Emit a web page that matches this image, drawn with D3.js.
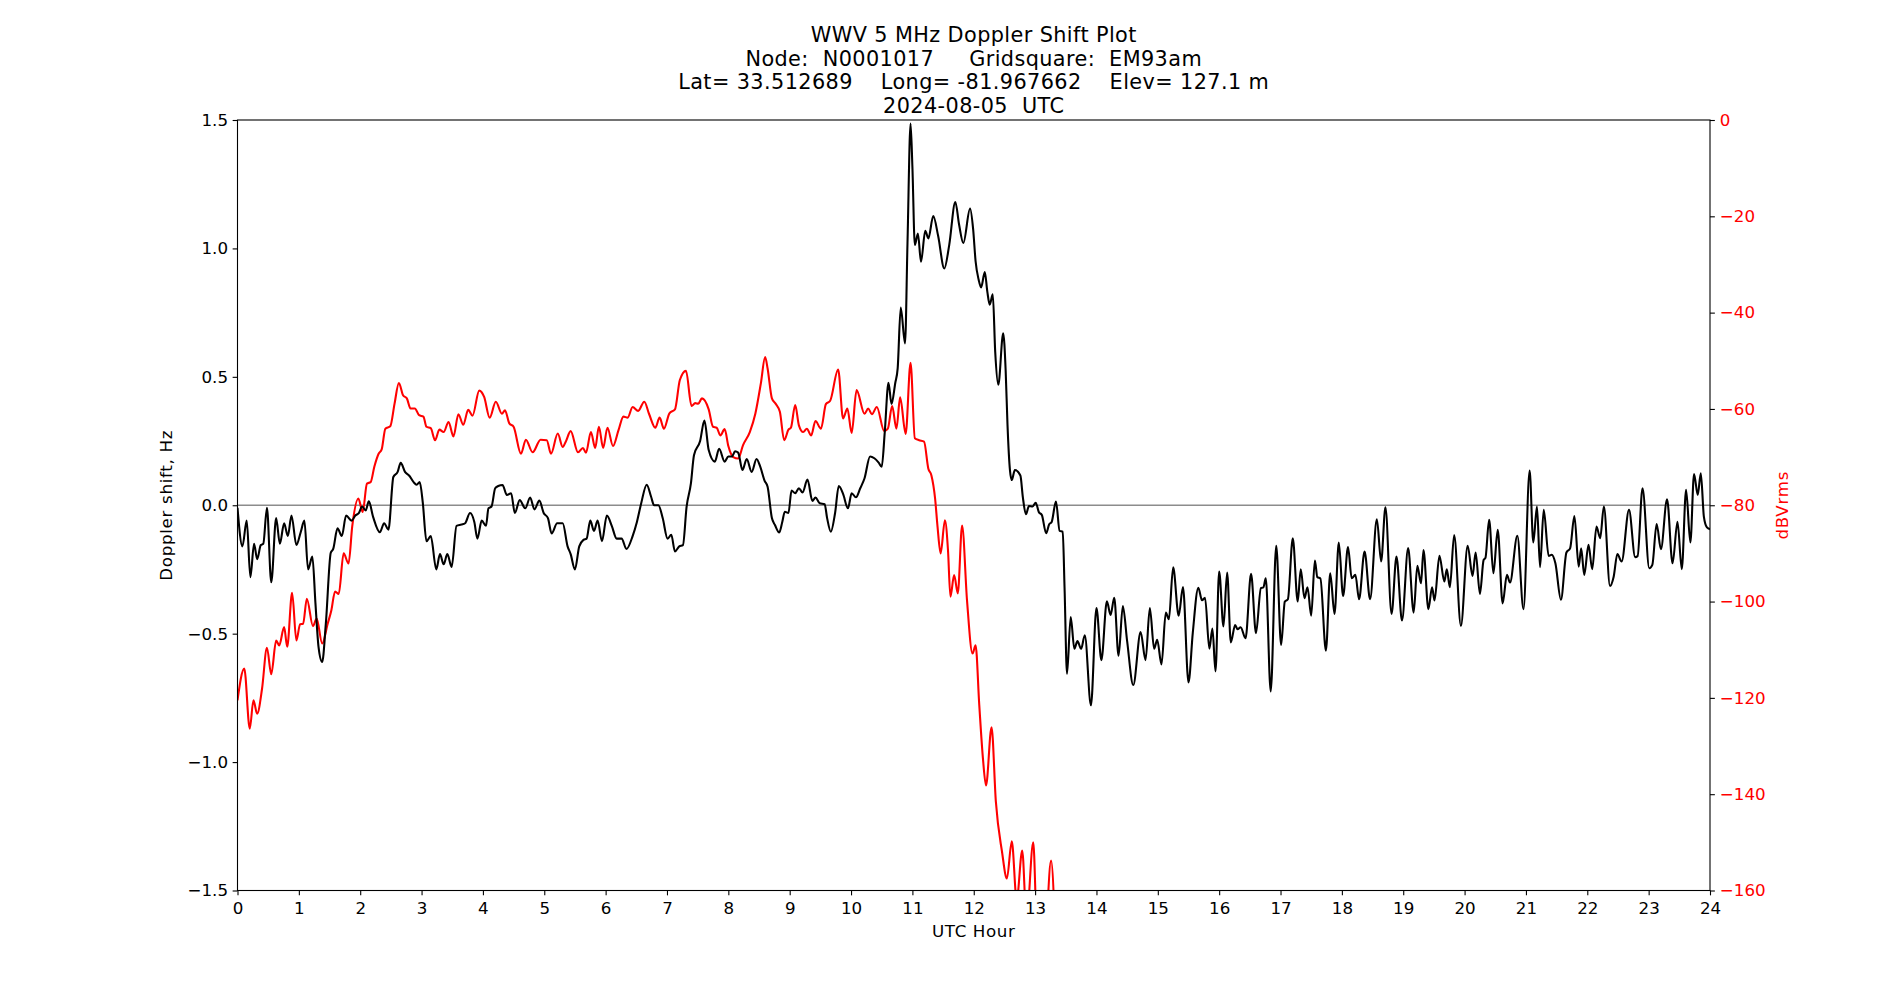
<!DOCTYPE html>
<html>
<head>
<meta charset="utf-8">
<script src="https://cdn.jsdelivr.net/npm/d3@7"></script>
<style>
  html, body { margin: 0; padding: 0; background: #fff; }
  svg text { font-family: "DejaVu Sans", sans-serif; white-space: pre; }
</style>
</head>
<body>
<svg id="chart" width="1900" height="1000"></svg>
<script>
const titleLines = [
  "WWV 5 MHz Doppler Shift Plot",
  "Node:  N0001017     Gridsquare:  EM93am",
  "Lat= 33.512689    Long= -81.967662    Elev= 127.1 m",
  "2024-08-05  UTC"
];
const xLabel = "UTC Hour";
const yLeftLabel = "Doppler shift, Hz";
const yRightLabel = "dBVrms";
const hourTicks = d3.range(0, 25, 1);
const dopplerTicks = [-1.5, -1.0, -0.5, 0.0, 0.5, 1.0, 1.5];
const powerTicks = [0, -20, -40, -60, -80, -100, -120, -140, -160];

// Doppler shift (Hz) vs UTC hour
const dopplerSeries = [
[0.00,-0.01],[0.08,-0.16],[0.15,-0.06],[0.21,-0.28],[0.27,-0.15],[0.32,-0.21],[0.38,-0.155],[0.42,-0.15],[0.48,-0.01],[0.55,-0.30],[0.63,-0.05],[0.69,-0.15],[0.76,-0.07],[0.82,-0.12],[0.88,-0.04],[0.96,-0.155],[1.03,-0.105],[1.09,-0.06],[1.15,-0.25],[1.22,-0.20],[1.27,-0.38],[1.32,-0.55],[1.38,-0.61],[1.44,-0.46],[1.52,-0.185],[1.56,-0.17],[1.63,-0.09],[1.70,-0.12],[1.77,-0.04],[1.86,-0.06],[1.92,-0.04],[1.98,-0.03],[2.03,-0.005],[2.09,-0.02],[2.14,0.015],[2.21,-0.045],[2.32,-0.105],[2.39,-0.07],[2.46,-0.095],[2.54,0.11],[2.61,0.13],[2.66,0.165],[2.73,0.13],[2.80,0.115],[2.87,0.09],[2.92,0.08],[2.97,0.09],[3.02,0.01],[3.08,-0.14],[3.15,-0.12],[3.24,-0.25],[3.30,-0.19],[3.36,-0.23],[3.42,-0.19],[3.49,-0.24],[3.57,-0.08],[3.65,-0.075],[3.71,-0.07],[3.79,-0.03],[3.86,-0.065],[3.91,-0.13],[3.98,-0.06],[4.05,-0.08],[4.09,-0.012],[4.14,-0.005],[4.20,0.066],[4.25,0.075],[4.32,0.079],[4.39,0.04],[4.46,0.047],[4.52,-0.03],[4.60,0.02],[4.69,-0.012],[4.77,0.03],[4.84,-0.016],[4.92,0.018],[4.99,-0.03],[5.06,-0.05],[5.12,-0.11],[5.21,-0.07],[5.30,-0.07],[5.38,-0.16],[5.43,-0.19],[5.50,-0.25],[5.57,-0.16],[5.64,-0.135],[5.69,-0.13],[5.75,-0.06],[5.81,-0.10],[5.87,-0.06],[5.94,-0.14],[6.02,-0.04],[6.10,-0.08],[6.18,-0.13],[6.26,-0.13],[6.34,-0.17],[6.44,-0.12],[6.51,-0.065],[6.58,0.008],[6.67,0.08],[6.74,0.034],[6.79,0.0],[6.86,0.0],[6.93,-0.05],[7.01,-0.13],[7.07,-0.115],[7.13,-0.18],[7.20,-0.16],[7.26,-0.155],[7.32,-0.005],[7.39,0.085],[7.44,0.195],[7.54,0.25],[7.61,0.33],[7.68,0.215],[7.78,0.17],[7.85,0.22],[7.94,0.17],[8.00,0.19],[8.06,0.19],[8.11,0.21],[8.16,0.205],[8.23,0.137],[8.30,0.18],[8.38,0.13],[8.46,0.18],[8.52,0.15],[8.59,0.096],[8.64,0.072],[8.71,-0.05],[8.76,-0.077],[8.83,-0.106],[8.88,-0.064],[8.92,-0.025],[8.98,-0.03],[9.03,0.057],[9.09,0.047],[9.15,0.066],[9.21,0.05],[9.29,0.10],[9.37,0.017],[9.42,0.03],[9.49,0.008],[9.57,0.004],[9.61,-0.05],[9.67,-0.103],[9.74,-0.03],[9.80,0.075],[9.87,0.044],[9.95,-0.012],[10.01,0.047],[10.08,0.031],[10.15,0.066],[10.22,0.105],[10.31,0.19],[10.38,0.183],[10.45,0.166],[10.50,0.15],[10.55,0.286],[10.61,0.477],[10.66,0.394],[10.72,0.475],[10.76,0.533],[10.81,0.77],[10.88,0.63],[10.92,1.02],[10.97,1.486],[11.00,1.318],[11.04,1.013],[11.09,1.058],[11.14,0.948],[11.21,1.069],[11.26,1.039],[11.34,1.126],[11.42,1.048],[11.52,0.922],[11.60,1.013],[11.70,1.181],[11.76,1.094],[11.83,1.021],[11.94,1.155],[11.99,1.075],[12.03,0.95],[12.08,0.878],[12.12,0.848],[12.18,0.908],[12.22,0.834],[12.26,0.781],[12.31,0.821],[12.35,0.596],[12.40,0.469],[12.48,0.67],[12.52,0.525],[12.55,0.314],[12.59,0.137],[12.62,0.098],[12.67,0.137],[12.76,0.116],[12.80,0.032],[12.85,-0.035],[12.90,-0.003],[12.96,-0.005],[13.01,0.01],[13.06,-0.026],[13.11,-0.038],[13.18,-0.109],[13.23,-0.074],[13.27,-0.065],[13.34,0.014],[13.40,-0.10],[13.45,-0.103],[13.48,-0.321],[13.52,-0.656],[13.58,-0.435],[13.64,-0.559],[13.69,-0.529],[13.75,-0.559],[13.81,-0.506],[13.91,-0.779],[14.00,-0.40],[14.08,-0.603],[14.17,-0.374],[14.23,-0.427],[14.29,-0.36],[14.36,-0.586],[14.43,-0.392],[14.50,-0.529],[14.60,-0.70],[14.72,-0.494],[14.80,-0.603],[14.87,-0.40],[14.94,-0.559],[14.99,-0.524],[15.06,-0.62],[15.13,-0.418],[15.18,-0.444],[15.25,-0.242],[15.34,-0.43],[15.41,-0.318],[15.50,-0.69],[15.57,-0.497],[15.66,-0.321],[15.72,-0.37],[15.77,-0.36],[15.84,-0.559],[15.89,-0.48],[15.94,-0.647],[16.00,-0.258],[16.07,-0.472],[16.13,-0.262],[16.19,-0.534],[16.26,-0.466],[16.30,-0.483],[16.35,-0.475],[16.43,-0.518],[16.52,-0.267],[16.60,-0.498],[16.68,-0.323],[16.72,-0.32],[16.76,-0.284],[16.84,-0.725],[16.93,-0.158],[17.01,-0.544],[17.07,-0.375],[17.12,-0.366],[17.20,-0.129],[17.28,-0.375],[17.33,-0.249],[17.39,-0.362],[17.44,-0.319],[17.50,-0.43],[17.56,-0.215],[17.60,-0.28],[17.65,-0.285],[17.74,-0.566],[17.81,-0.265],[17.88,-0.423],[17.95,-0.145],[18.02,-0.353],[18.10,-0.163],[18.16,-0.284],[18.22,-0.271],[18.28,-0.366],[18.37,-0.18],[18.46,-0.366],[18.57,-0.055],[18.64,-0.219],[18.71,-0.008],[18.81,-0.423],[18.89,-0.2],[18.98,-0.449],[19.08,-0.167],[19.17,-0.418],[19.23,-0.236],[19.29,-0.304],[19.33,-0.174],[19.41,-0.405],[19.47,-0.319],[19.51,-0.371],[19.59,-0.197],[19.67,-0.297],[19.71,-0.249],[19.76,-0.319],[19.83,-0.116],[19.94,-0.47],[20.05,-0.158],[20.13,-0.275],[20.18,-0.184],[20.25,-0.345],[20.31,-0.213],[20.34,-0.205],[20.40,-0.057],[20.47,-0.265],[20.54,-0.096],[20.62,-0.382],[20.69,-0.271],[20.74,-0.301],[20.86,-0.119],[20.96,-0.405],[21.06,0.135],[21.12,-0.145],[21.18,-0.005],[21.23,-0.241],[21.29,-0.018],[21.37,-0.197],[21.42,-0.193],[21.48,-0.226],[21.57,-0.368],[21.66,-0.184],[21.72,-0.168],[21.79,-0.042],[21.86,-0.239],[21.90,-0.168],[21.95,-0.271],[22.02,-0.154],[22.08,-0.249],[22.15,-0.083],[22.21,-0.128],[22.27,-0.005],[22.37,-0.314],[22.43,-0.278],[22.49,-0.19],[22.56,-0.219],[22.68,-0.018],[22.78,-0.202],[22.82,-0.198],[22.90,0.066],[23.01,-0.245],[23.06,-0.232],[23.13,-0.073],[23.20,-0.171],[23.30,0.023],[23.39,-0.226],[23.47,-0.064],[23.54,-0.249],[23.61,0.06],[23.68,-0.145],[23.74,0.122],[23.80,0.04],[23.85,0.124],[23.90,-0.044],[23.95,-0.086],[24.00,-0.093]
];

// Received power (dBVrms) vs UTC hour
const powerSeries = [
[0.00,-120.5],[0.11,-113.9],[0.20,-126.4],[0.26,-120.5],[0.32,-123.3],[0.40,-118.1],[0.48,-109.6],[0.55,-115.1],[0.63,-108.1],[0.68,-109.1],[0.76,-105.3],[0.81,-109.4],[0.89,-98.2],[0.96,-108.1],[1.02,-104.7],[1.07,-104.6],[1.13,-99.4],[1.23,-105.1],[1.29,-103.5],[1.38,-108.7],[1.47,-104.6],[1.53,-101.8],[1.59,-97.9],[1.65,-98.4],[1.73,-90.0],[1.81,-92.1],[1.87,-84.4],[1.97,-78.6],[2.04,-81.4],[2.11,-75.5],[2.17,-75.2],[2.23,-72.0],[2.30,-69.3],[2.35,-68.4],[2.41,-64.1],[2.49,-63.6],[2.56,-58.9],[2.63,-54.6],[2.70,-57.2],[2.76,-57.8],[2.82,-59.9],[2.89,-59.9],[2.96,-61.3],[3.03,-61.6],[3.08,-63.7],[3.15,-64.0],[3.22,-66.5],[3.29,-64.3],[3.36,-64.8],[3.44,-62.7],[3.52,-65.7],[3.60,-61.1],[3.68,-63.3],[3.76,-60.2],[3.83,-61.4],[3.94,-56.2],[4.02,-57.5],[4.11,-61.8],[4.21,-58.5],[4.31,-61.0],[4.36,-60.3],[4.43,-63.0],[4.50,-63.7],[4.62,-69.3],[4.70,-66.4],[4.81,-69.0],[4.94,-66.4],[5.04,-66.5],[5.11,-69.3],[5.22,-65.1],[5.30,-67.9],[5.35,-66.8],[5.43,-64.6],[5.55,-69.0],[5.63,-68.1],[5.68,-69.1],[5.76,-64.8],[5.83,-68.1],[5.89,-63.7],[5.96,-68.1],[6.03,-63.9],[6.12,-67.7],[6.21,-64.4],[6.29,-61.6],[6.36,-61.8],[6.44,-59.6],[6.53,-60.4],[6.63,-58.5],[6.71,-61.1],[6.81,-63.9],[6.88,-61.8],[6.95,-64.1],[7.04,-60.9],[7.13,-60.1],[7.21,-54.0],[7.31,-52.1],[7.40,-59.4],[7.46,-58.8],[7.51,-58.9],[7.57,-57.8],[7.68,-60.1],[7.75,-63.7],[7.81,-63.9],[7.87,-65.5],[7.94,-64.2],[8.00,-67.7],[8.08,-70.0],[8.16,-70.3],[8.24,-67.5],[8.35,-64.8],[8.44,-61.0],[8.53,-54.7],[8.60,-49.2],[8.64,-51.6],[8.71,-57.8],[8.77,-58.9],[8.84,-60.6],[8.91,-66.5],[8.98,-64.3],[9.02,-63.9],[9.09,-59.2],[9.15,-63.4],[9.22,-64.8],[9.28,-64.1],[9.35,-65.5],[9.42,-62.5],[9.51,-64.1],[9.59,-59.0],[9.66,-58.3],[9.79,-51.8],[9.87,-62.0],[9.94,-59.9],[10.01,-65.0],[10.09,-56.1],[10.22,-61.0],[10.28,-59.9],[10.34,-61.1],[10.42,-59.6],[10.54,-64.6],[10.60,-64.1],[10.67,-59.4],[10.74,-64.1],[10.80,-57.6],[10.89,-65.2],[10.97,-50.4],[11.04,-66.1],[11.11,-66.5],[11.19,-66.8],[11.26,-72.4],[11.31,-73.8],[11.37,-78.6],[11.41,-84.5],[11.46,-90.0],[11.53,-83.1],[11.58,-89.3],[11.62,-99.0],[11.68,-94.5],[11.74,-98.3],[11.81,-84.2],[11.89,-99.7],[11.98,-110.8],[12.03,-109.1],[12.09,-121.5],[12.15,-132.6],[12.20,-138.2],[12.29,-126.1],[12.36,-141.5],[12.46,-151.9],[12.54,-157.5],[12.62,-149.8],[12.70,-162],[12.79,-151.7],[12.86,-166],[12.97,-150],[13.03,-168],[13.15,-172],[13.26,-153.8],[13.33,-170]
];

const W = 1900, H = 1000;
const plot = { left: 237.5, right: 1710, top: 120, bottom: 890.5 };
const fontTick = 16.7, fontTitle = 20.8;
const tickLen = 4.86;

const svg = d3.select("#chart");
svg.append("rect").attr("width", W).attr("height", H).attr("fill", "#fff");

const x = d3.scaleLinear().domain([0, 24]).range([plot.left, plot.right]);
const yL = d3.scaleLinear().domain([-1.5, 1.5]).range([plot.bottom, plot.top]);
const yR = d3.scaleLinear().domain([-160, 0]).range([plot.bottom, plot.top]);

svg.append("defs").append("clipPath").attr("id", "clip")
  .append("rect")
  .attr("x", plot.left).attr("y", plot.top)
  .attr("width", plot.right - plot.left).attr("height", plot.bottom - plot.top);

// zero line
svg.append("line")
  .attr("x1", x(0)).attr("x2", x(24))
  .attr("y1", yL(0)).attr("y2", yL(0))
  .attr("stroke", "#8c8c8c").attr("stroke-width", 1.3);

const g = svg.append("g").attr("clip-path", "url(#clip)");

const lineL = d3.line().x(d => x(d[0])).y(d => yL(d[1])).curve(d3.curveMonotoneX);
const lineR = d3.line().x(d => x(d[0])).y(d => yR(d[1])).curve(d3.curveMonotoneX);

g.append("path").datum(powerSeries).attr("d", lineR)
  .attr("fill", "none").attr("stroke", "#ff0000").attr("stroke-width", 2.08)
  .attr("stroke-linejoin", "round");
g.append("path").datum(dopplerSeries).attr("d", lineL)
  .attr("fill", "none").attr("stroke", "#000").attr("stroke-width", 2.08)
  .attr("stroke-linejoin", "round");

// frame
svg.append("rect")
  .attr("x", plot.left).attr("y", plot.top)
  .attr("width", plot.right - plot.left).attr("height", plot.bottom - plot.top)
  .attr("fill", "none").attr("stroke", "#000").attr("stroke-width", 1.1);

function styleAxis(sel, color) {
  sel.select(".domain").remove();
  sel.selectAll(".tick line").attr("stroke", "#000").attr("stroke-width", 1.1);
  sel.selectAll(".tick text").attr("fill", color)
    .style("font-size", fontTick + "px").style("font-family", "DejaVu Sans");
}

const xAxis = svg.append("g").attr("transform", `translate(0,${plot.bottom})`)
  .call(d3.axisBottom(x).tickValues(hourTicks).tickFormat(d3.format("d"))
    .tickSize(tickLen).tickPadding(6.8));
styleAxis(xAxis, "#000");

const yAxisL = svg.append("g").attr("transform", `translate(${plot.left},0)`)
  .call(d3.axisLeft(yL).tickValues(dopplerTicks).tickFormat(d3.format(".1f"))
    .tickSize(tickLen).tickPadding(4.6));
styleAxis(yAxisL, "#000");

const yAxisR = svg.append("g").attr("transform", `translate(${plot.right},0)`)
  .call(d3.axisRight(yR).tickValues(powerTicks).tickFormat(d3.format("d"))
    .tickSize(tickLen).tickPadding(5));
styleAxis(yAxisR, "#ff0000");

// labels
svg.append("text").text(xLabel)
  .attr("x", (plot.left + plot.right) / 2).attr("y", 937)
  .attr("text-anchor", "middle").style("font-size", fontTick + "px")
  .style("letter-spacing", "0.6px");

svg.append("text").text(yLeftLabel)
  .attr("transform", `translate(166,${(plot.top + plot.bottom) / 2}) rotate(-90)`)
  .attr("text-anchor", "middle").attr("dominant-baseline", "central")
  .style("font-size", fontTick + "px").style("letter-spacing", "0.7px");

svg.append("text").text(yRightLabel)
  .attr("transform", `translate(1782,${(plot.top + plot.bottom) / 2}) rotate(-90)`)
  .attr("text-anchor", "middle").attr("dominant-baseline", "central")
  .attr("fill", "#ff0000").style("font-size", fontTick + "px")
  .style("letter-spacing", "0.7px");

// title
const baselines = [42, 65.5, 89, 112.5];
titleLines.forEach((t, i) => {
  svg.append("text").text(t)
    .attr("x", (plot.left + plot.right) / 2).attr("y", baselines[i])
    .attr("text-anchor", "middle").style("font-size", fontTitle + "px")
    .style("letter-spacing", "0.4px");
});
</script>
</body>
</html>
